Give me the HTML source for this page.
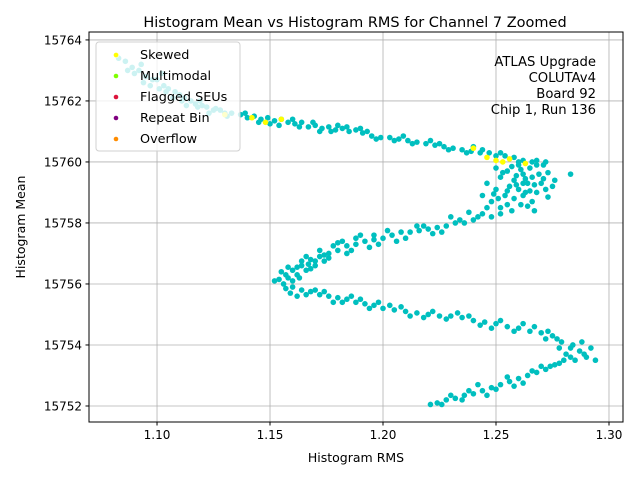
<!DOCTYPE html>
<html><head><meta charset="utf-8"><style>
body{margin:0;background:#fff;}
svg{display:block;font-family:"DejaVu Sans","Liberation Sans",sans-serif;}
</style></head><body>
<svg id="chart" width="640" height="480">
<rect width="640" height="480" fill="#fff"/>
<text x="355" y="27" text-anchor="middle" font-size="14.5">Histogram Mean vs Histogram RMS for Channel 7 Zoomed</text>
<g id="grid"></g>
<g id="marks"></g>
<rect x="89" y="32" width="534" height="390" fill="none" stroke="#000" stroke-width="1"/>
<g id="ticks"></g>
<text x="356" y="462" text-anchor="middle" font-size="12.5">Histogram RMS</text>
<text x="25" y="227" text-anchor="middle" font-size="12.5" transform="rotate(-90 25 227)">Histogram Mean</text>
<g>
<rect x="96" y="42" width="144" height="109" rx="3" fill="rgba(255,255,255,0.8)" stroke="#d0d0d0"/>
<circle cx="116" cy="55" r="2.3" fill="#ffff00"/>
<text x="140" y="59" font-size="12.8">Skewed</text>
<circle cx="116" cy="76" r="2.3" fill="#7fff00"/>
<text x="140" y="80" font-size="12.8">Multimodal</text>
<circle cx="116" cy="97" r="2.3" fill="#dc143c"/>
<text x="140" y="101" font-size="12.8">Flagged SEUs</text>
<circle cx="116" cy="118" r="2.3" fill="#800080"/>
<text x="140" y="122" font-size="12.8">Repeat Bin</text>
<circle cx="116" cy="139" r="2.3" fill="#ff8c00"/>
<text x="140" y="143" font-size="12.8">Overflow</text>
</g>
<g font-size="13.2" text-anchor="end">
<text x="596" y="66">ATLAS Upgrade</text>
<text x="596" y="82">COLUTAv4</text>
<text x="596" y="98">Board 92</text>
<text x="596" y="114">Chip 1, Run 136</text>
</g>
</svg>
<script>
const xTicks=[1.10,1.15,1.20,1.25,1.30];
const xTickLabels=["1.10","1.15","1.20","1.25","1.30"];
const yTicks=[15752,15754,15756,15758,15760,15762,15764];
const yTickLabels=["15752","15754","15756","15758","15760","15762","15764"];
const normalPoints=[
[1.083,15763.4],[1.086,15763.3],[1.089,15763.1],[1.092,15763.0],[1.095,15762.8],[1.098,15762.7],[1.100,15762.7],[1.103,15762.5],[1.105,15762.4],[1.108,15762.3],[1.110,15762.2],[1.112,15762.1],[1.115,15762.0],[1.117,15761.9],[1.120,15761.85],[1.122,15761.8],[1.125,15761.7],[1.128,15761.7],[1.130,15761.6],[1.133,15761.6],[1.090,15762.9],[1.097,15762.5],[1.104,15762.3],[1.111,15762.0],[1.118,15761.8],[1.126,15761.75],
[1.087,15763.0],[1.094,15762.6],[1.101,15762.4],[1.107,15762.1],[1.113,15761.85],[1.119,15762.0],[1.123,15761.6],[1.131,15761.5],[1.093,15763.2],[1.102,15762.9],
[1.137,15761.55],[1.140,15761.45],[1.143,15761.5],[1.146,15761.4],[1.149,15761.45],[1.152,15761.35],[1.155,15761.4],[1.158,15761.3],[1.161,15761.25],[1.164,15761.3],[1.167,15761.15],[1.170,15761.2],[1.173,15761.1],[1.176,15761.15],[1.179,15761.05],[1.182,15761.1],[1.185,15761.0],[1.188,15761.05],[1.191,15760.95],[1.195,15760.85],[1.199,15760.8],[1.203,15760.8],[1.207,15760.75],[1.211,15760.7],[1.215,15760.65],[1.219,15760.6],[1.223,15760.55],[1.227,15760.5],[1.231,15760.45],[1.235,15760.4],[1.239,15760.35],[1.243,15760.3],[1.247,15760.3],[1.250,15760.2],[1.254,15760.2],[1.258,15760.15],[1.262,15760.05],[1.266,15760.0],[1.150,15761.25],[1.160,15761.4],[1.172,15761.0],[1.180,15761.2],[1.190,15761.1],[1.205,15760.7],[1.225,15760.6],[1.240,15760.5],
[1.139,15761.6],[1.145,15761.3],[1.154,15761.2],[1.163,15761.15],[1.169,15761.3],[1.177,15761.0],[1.184,15761.15],[1.193,15761.0],[1.197,15760.75],[1.209,15760.85],[1.213,15760.6],[1.221,15760.7],[1.229,15760.4],[1.237,15760.3],[1.244,15760.4],[1.252,15760.3],[1.260,15760.0],[1.268,15760.05],[1.272,15760.0],
[1.250,15759.8],[1.255,15759.7],[1.260,15759.9],[1.265,15759.8],[1.268,15759.9],[1.271,15759.9],[1.252,15759.5],[1.258,15759.4],[1.262,15759.6],[1.266,15759.5],[1.270,15759.3],[1.256,15759.2],[1.260,15759.1],[1.264,15759.3],[1.268,15759.0],[1.272,15759.1],[1.254,15758.9],[1.258,15758.8],[1.262,15758.9],[1.266,15758.7],[1.250,15759.1],[1.248,15758.7],[1.252,15758.5],[1.257,15758.4],[1.261,15758.6],[1.246,15759.3],[1.269,15759.6],[1.275,15759.2],[1.283,15759.6],[1.276,15759.4],[1.263,15759.0],[1.259,15759.55],[1.244,15758.9],[1.267,15758.4],
[1.253,15759.65],[1.257,15759.85],[1.261,15759.75],[1.263,15759.45],[1.267,15759.25],[1.255,15759.05],[1.259,15759.25],[1.265,15759.05],[1.271,15759.45],[1.273,15759.65],[1.251,15758.8],[1.255,15758.6],[1.264,15758.55],[1.249,15758.95],[1.273,15758.85],[1.262,15759.3],
[1.252,15758.3],[1.248,15758.2],[1.244,15758.3],[1.240,15758.1],[1.236,15758.0],[1.232,15758.0],[1.228,15757.9],[1.224,15757.85],[1.220,15757.8],[1.216,15757.75],[1.212,15757.7],[1.208,15757.7],[1.204,15757.6],[1.200,15757.5],[1.196,15757.45],[1.192,15757.4],[1.188,15757.3],[1.184,15757.25],[1.180,15757.1],[1.176,15757.0],[1.172,15756.9],[1.168,15756.8],[1.164,15756.6],[1.160,15756.45],[1.157,15756.3],[1.154,15756.15],[1.246,15758.5],[1.238,15758.35],[1.226,15757.7],[1.210,15757.5],[1.198,15757.3],[1.190,15757.6],[1.186,15757.1],[1.178,15757.25],[1.174,15756.75],[1.170,15756.6],[1.166,15756.9],[1.162,15756.3],[1.158,15756.55],[1.160,15756.1],[1.156,15756.0],[1.168,15756.5],[1.182,15757.4],[1.194,15757.2],[1.215,15757.9],[1.230,15758.2],
[1.242,15758.2],[1.234,15758.1],[1.222,15757.65],[1.218,15757.9],[1.206,15757.4],[1.202,15757.75],[1.196,15757.6],[1.188,15757.5],[1.184,15757.0],[1.180,15757.35],[1.176,15756.85],[1.172,15757.1],[1.170,15756.75],[1.166,15756.45],[1.164,15756.75],[1.162,15756.55],[1.158,15756.2],[1.155,15756.4],[1.152,15756.1],[1.163,15756.2],[1.167,15756.65],[1.174,15756.95],
[1.157,15755.85],[1.160,15755.9],[1.164,15755.8],[1.168,15755.75],[1.172,15755.65],[1.176,15755.6],[1.180,15755.55],[1.184,15755.5],[1.188,15755.4],[1.192,15755.35],[1.196,15755.3],[1.200,15755.2],[1.205,15755.15],[1.210,15755.1],[1.215,15755.05],[1.220,15755.0],[1.225,15754.95],[1.230,15754.95],[1.235,15754.9],[1.240,15754.8],[1.245,15754.75],[1.250,15754.7],[1.255,15754.6],[1.260,15754.55],[1.265,15754.45],[1.270,15754.4],[1.275,15754.3],[1.279,15754.1],[1.283,15753.9],[1.287,15753.8],[1.290,15753.6],[1.292,15753.9],[1.162,15755.6],[1.170,15755.8],[1.178,15755.4],[1.190,15755.5],[1.203,15755.3],[1.218,15754.9],[1.233,15755.05],[1.248,15754.55],[1.262,15754.7],[1.272,15754.2],[1.285,15753.5],[1.281,15753.7],[1.278,15753.9],[1.288,15754.1],[1.294,15753.5],
[1.159,15755.7],[1.166,15755.65],[1.174,15755.75],[1.182,15755.4],[1.186,15755.6],[1.194,15755.2],[1.198,15755.4],[1.208,15755.25],[1.212,15754.95],[1.222,15755.1],[1.228,15754.85],[1.238,15754.95],[1.243,15754.65],[1.252,15754.8],[1.258,15754.45],[1.267,15754.6],[1.273,15754.45],[1.277,15754.2],[1.284,15754.0],[1.289,15753.7],[1.283,15753.6],
[1.280,15753.5],[1.276,15753.35],[1.272,15753.2],[1.268,15753.1],[1.264,15753.0],[1.260,15752.9],[1.256,15752.8],[1.252,15752.7],[1.248,15752.6],[1.244,15752.5],[1.240,15752.4],[1.236,15752.35],[1.232,15752.25],[1.228,15752.2],[1.224,15752.1],[1.221,15752.05],[1.270,15753.3],[1.262,15752.75],[1.255,15752.95],[1.246,15752.35],[1.242,15752.7],[1.235,15752.2],[1.266,15753.15],
[1.278,15753.4],[1.274,15753.3],[1.258,15752.65],[1.250,15752.55],[1.238,15752.5],[1.230,15752.35],[1.226,15752.05]
];
const skewedPoints=[[1.082,15763.5],[1.130,15761.55],[1.142,15761.45],[1.148,15761.3],[1.155,15761.4],[1.240,15760.45],[1.246,15760.15],[1.250,15760.05],[1.253,15760.0],[1.256,15760.1],[1.263,15759.95]];

const NS="http://www.w3.org/2000/svg";
const X0=89,X1=623,Y0=32,Y1=422;
const xMin=1.0699,xMax=1.3062,yMin=15751.475,yMax=15764.26;
function sx(v){return X0+(v-xMin)/(xMax-xMin)*(X1-X0);}
function sy(v){return Y1-(v-yMin)/(yMax-yMin)*(Y1-Y0);}
function mk(tag,attrs){const e=document.createElementNS(NS,tag);for(const k in attrs)e.setAttribute(k,attrs[k]);return e;}
const grid=document.getElementById('grid'),ticks=document.getElementById('ticks'),marks=document.getElementById('marks');
xTicks.forEach((t,i)=>{
  const x=sx(t);
  const g=mk('line',{x1:x,x2:x,y1:Y0,y2:Y1,stroke:'#b0b0b0','stroke-width':0.8});
  
  
  grid.appendChild(g);
  const tk=mk('line',{x1:x,x2:x,y1:Y1,y2:Y1+3.5,stroke:'#000'});
  
  
  ticks.appendChild(tk);
  const lb=mk('text',{x:x,y:Y1+17,'text-anchor':'middle','font-size':12});
  lb.textContent=xTickLabels[i];
  
  
  ticks.appendChild(lb);
});
yTicks.forEach((t,i)=>{
  const y=sy(t);
  const g=mk('line',{x1:X0,x2:X1,y1:y,y2:y,stroke:'#b0b0b0','stroke-width':0.8});
  
  
  grid.appendChild(g);
  const tk=mk('line',{x1:X0-3.5,x2:X0,y1:y,y2:y,stroke:'#000'});
  
  
  ticks.appendChild(tk);
  const lb=mk('text',{x:X0-7,y:y+4.5,'text-anchor':'end','font-size':12});
  lb.textContent=yTickLabels[i];
  
  
  ticks.appendChild(lb);
});
normalPoints.forEach(p=>{
  const c=mk('circle',{cx:sx(p[0]),cy:sy(p[1]),r:2.8,fill:'#00bfbf'});
  
  
  marks.appendChild(c);
});
skewedPoints.forEach(p=>{
  const c=mk('circle',{cx:sx(p[0]),cy:sy(p[1]),r:2.8,fill:'#ffff00'});
  
  
  marks.appendChild(c);
});
</script>
</body></html>
